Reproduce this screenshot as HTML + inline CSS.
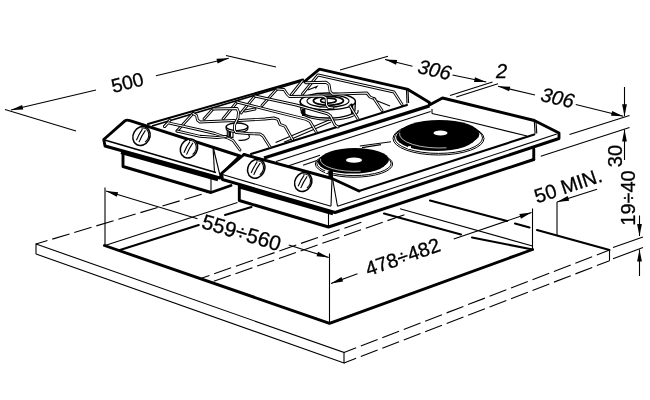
<!DOCTYPE html>
<html><head><meta charset="utf-8"><title>Hob installation dimensions</title>
<style>
html,body{margin:0;padding:0;background:#fff}
svg{display:block;filter:grayscale(1)}
.t{fill:none;stroke:#000;stroke-width:1.1}
.k{fill:none;stroke:#000;stroke-width:2.9;stroke-linejoin:round;stroke-linecap:round}
.d{fill:none;stroke:#000;stroke-width:1.1;stroke-dasharray:18 5}
.f{fill:#000;stroke:none}
.wo{fill:none;stroke:#000;stroke-width:2.9;stroke-linejoin:round;stroke-linecap:round}
.wi{fill:none;stroke:#fff;stroke-width:1.1;stroke-linejoin:round;stroke-linecap:round}
.kw{fill:#fff;stroke:#000;stroke-width:2.9;stroke-linejoin:round}
.m{fill:none;stroke:#000;stroke-width:2.1;stroke-linecap:round}
.k2{fill:none;stroke:#000;stroke-width:1.6}
.k3{fill:none;stroke:#000;stroke-width:3.4}
.w{fill:#fff;stroke:#000;stroke-width:1}
text{font-family:"Liberation Sans",sans-serif;fill:#000;stroke:#000;stroke-width:0.3}
</style></head><body>
<svg width="650" height="400" viewBox="0 0 650 400">
<rect width="650" height="400" fill="#fff"/>
<path class="t" d="M36 254 L36 244 L344 352.5 L344 363 L36 254"/>
<path class="d" d="M36 244 L207.5 192.5" stroke-dashoffset="6"/>
<path class="d" d="M344 352.5 L609.5 250" stroke-dashoffset="5"/>
<path class="d" d="M344 363 L609.5 260.75" stroke-dashoffset="5"/>
<path class="t" d="M609.5 250 L609.5 260.75"/>
<path class="m" d="M430 200.5 L507 221"/>
<path class="m" d="M515 223.5 L529.5 227.5"/>
<path class="m" d="M537 230 L609.5 250"/>
<path class="k" d="M104.5 245.5 L329.5 323.3 L532.5 249.5"/>
<path class="t" d="M105 187.5 L105 246"/>
<path class="t" d="M329.5 253.5 L329.5 323.3"/>
<path class="t" d="M532.5 208.5 L532.5 249.5"/>
<path class="t" d="M105 245.5 L237.5 202.5"/>
<path class="m" d="M120 250 L198.75 225"/>
<path class="m" d="M225 215 L251.5 207"/>
<path class="t" d="M400 208.75 L532.5 246"/>
<path class="m" d="M472 237.5 L532.5 249.5"/>
<path class="m" d="M384 213.5 L461 234.5"/>
<path class="d" d="M200 278.75 L362 222" stroke-dashoffset="8"/>
<path class="d" d="M213.75 281.25 L405 214.5"/>
<path class="t" d="M5 109.5 L76 131"/>
<path class="t" d="M96 90 L11 110"/>
<path class="f" d="M11.00 110.00 L22.13 104.92 L23.23 109.59 Z"/>
<path class="t" d="M156 75.75 L228.75 58.25"/>
<path class="f" d="M228.75 58.25 L217.64 63.39 L216.52 58.72 Z"/>
<path class="t" d="M226 55.5 L276 67"/>
<text x="129" y="89" font-size="19.5" text-anchor="middle" transform="rotate(-14 129 89)">500</text>
<path class="t" d="M340 70 L388 56.25"/>
<path class="t" d="M412.5 66.25 L385 59.5"/>
<path class="f" d="M385.00 59.50 L397.23 60.03 L396.08 64.69 Z"/>
<text x="433" y="76.5" font-size="20" font-style="italic" text-anchor="middle" transform="rotate(13 433 76.5)">306</text>
<path class="t" d="M452.5 75 L486.25 82"/>
<path class="f" d="M486.25 82.00 L474.01 81.91 L474.99 77.21 Z"/>
<path class="t" d="M450 95.5 L492.5 82"/>
<path class="t" d="M456.25 97 L498 83.75"/>
<text x="501.5" y="77.5" font-size="20" font-style="italic" text-anchor="middle" transform="rotate(0 501.5 77.5)">2</text>
<path class="t" d="M535 95 L498 86.25"/>
<path class="f" d="M498.00 86.25 L510.23 86.68 L509.13 91.35 Z"/>
<text x="556" y="104.5" font-size="20" font-style="italic" text-anchor="middle" transform="rotate(13 556 104.5)">306</text>
<path class="t" d="M575.75 104.5 L623.25 116.25"/>
<path class="f" d="M623.25 116.25 L611.02 115.70 L612.18 111.04 Z"/>
<path class="t" d="M569.5 134.5 L629.5 115.5"/>
<path class="t" d="M540.75 156.25 L629.5 127.5"/>
<path class="t" d="M624.5 87 L624.5 116.25"/>
<path class="f" d="M624.50 116.25 L622.10 104.25 L626.90 104.25 Z"/>
<path class="t" d="M624.5 160 L624.5 129.5"/>
<path class="f" d="M624.50 129.50 L626.90 141.50 L622.10 141.50 Z"/>
<text x="621.5" y="156" font-size="20" text-anchor="middle" transform="rotate(-90 621.5 156)">30</text>
<text x="635.3" y="198" font-size="20" text-anchor="middle" transform="rotate(-90 635.3 198)">19÷40</text>
<path class="t" d="M639.5 215.5 L639.5 236"/>
<path class="f" d="M639.50 236.00 L637.10 224.00 L641.90 224.00 Z"/>
<path class="t" d="M639.5 276 L639.5 249.5"/>
<path class="f" d="M639.50 249.50 L641.90 261.50 L637.10 261.50 Z"/>
<path class="t" d="M613 247.5 L643 237"/>
<path class="t" d="M613 258.75 L643 247.5"/>
<text x="570.3" y="192.3" font-size="20" text-anchor="middle" transform="rotate(-18.5 570.3 192.3)">50 MIN.</text>
<path class="t" d="M597 189.2 L557 202"/>
<path class="f" d="M557.00 202.00 L567.70 196.06 L569.16 200.63 Z"/>
<path class="t" d="M557 202 L557 236"/>
<path class="t" d="M453.75 239 L531.5 212.5"/>
<path class="f" d="M531.50 212.50 L520.92 218.64 L519.37 214.10 Z"/>
<text x="405" y="263.4" font-size="20" text-anchor="middle" transform="rotate(-19.3 405 263.4)">478÷482</text>
<path class="t" d="M357.5 273.75 L331 283.5"/>
<path class="f" d="M331.00 283.50 L341.43 277.10 L343.09 281.61 Z"/>
<path class="t" d="M197.5 218.75 L106 191"/>
<path class="f" d="M106.00 191.00 L118.18 192.19 L116.79 196.78 Z"/>
<text x="239.5" y="239.5" font-size="21" text-anchor="middle" transform="rotate(16.8 239.5 239.5)">559÷560</text>
<path class="t" d="M288.75 245 L328.75 257.5"/>
<path class="f" d="M328.75 257.50 L316.58 256.21 L318.01 251.63 Z"/>
<path d="M148 124 L303 79.5 L319.5 69.2 L408 89.4 L429.4 102.5 L429.4 105 L265 158.5 L240 156 Z" fill="#fff" stroke="none"/>
<path class="m" d="M148 124 L303 79.5"/>
<path class="k" d="M304.5 81.5 L319.5 69.2 L408 89.4 L429.4 102.5 L429.4 105"/>
<path class="m" d="M251 154 L407 105"/>
<path class="t" d="M406.5 90 L407 103.5"/>
<path class="t" d="M408 89.4 L408.6 103"/>
<path class="wo" d="M302.5 94 L318 75 L394 92 L402 104.5"/><path class="wi" d="M302.5 94 L318 75 L394 92 L402 104.5"/>
<path class="k2" d="M152 126 L303 80.7"/>
<path class="t" d="M275.6 142.5 L329 120"/>
<path class="t" d="M284 142.2 L331 122"/>
<path class="t" d="M375 100 L390 106"/>
<path class="wo" d="M170 120 L164.5 126.5"/><path class="wi" d="M170 120 L164.5 126.5"/>
<path class="wo" d="M193 113.5 L177 131"/><path class="wi" d="M193 113.5 L177 131"/>
<path class="wo" d="M213 109 L204 119"/><path class="wi" d="M213 109 L204 119"/>
<path class="wo" d="M237 102 L223 119"/><path class="wi" d="M237 102 L223 119"/>
<path class="wo" d="M255 96 L241 113"/><path class="wi" d="M255 96 L241 113"/>
<path class="wo" d="M277 89 L262 105.5"/><path class="wi" d="M277 89 L262 105.5"/>
<path class="wo" d="M302.3 81 L291.5 94.5"/><path class="wi" d="M302.3 81 L291.5 94.5"/>
<path class="wo" d="M164.5 126.5 L168 122.8 L200 130 L215 133.5 L229 138.5 L233 140.5 L240 150"/><path class="wi" d="M164.5 126.5 L168 122.8 L200 130 L215 133.5 L229 138.5 L233 140.5 L240 150"/>
<path class="wo" d="M177 131 L200 136.3 L217 137.5 L226 136.5"/><path class="wi" d="M177 131 L200 136.3 L217 137.5 L226 136.5"/>
<path class="wo" d="M245 111 L255 109"/><path class="wi" d="M245 111 L255 109"/>
<path class="wo" d="M237 102 L306.25 119.4 L310 121.5 L316.25 132"/><path class="wi" d="M237 102 L306.25 119.4 L310 121.5 L316.25 132"/>
<path class="t" d="M248 134 Q250.5 136.5 248.5 138.5 Q245 141 238.5 140.2"/>
<path class="w" d="M227.3 128 L227.3 136.5 L233 137.5 L233 129 Z" style="stroke-width:1.1"/>
<rect x="228.4" y="130.5" width="2.6" height="6.3" class="f"/>
<path class="w" d="M226.2 126.8 L226.2 128.8 A10.8 3.8 0 0 0 247.8 128.8 L247.8 126.8 Z" style="stroke-width:1.2"/>
<ellipse class="w" cx="237" cy="126.8" rx="10.8" ry="3.8" style="stroke-width:1.3"/>
<path class="wo" d="M193 113.5 L196.5 115.5 L197.5 120 L200 122 L234 120.5 L237 121.5"/><path class="wi" d="M193 113.5 L196.5 115.5 L197.5 120 L200 122 L234 120.5 L237 121.5"/>
<path class="wo" d="M213 109 L237 108.5 L238.5 112 L238 118 L236 122 L234.6 125 L234.5 130 L236 132.5 L248 133.5 L260 134 L263 136 L270 147"/><path class="wi" d="M213 109 L237 108.5 L238.5 112 L238 118 L236 122 L234.6 125 L234.5 130 L236 132.5 L248 133.5 L260 134 L263 136 L270 147"/>
<path class="wo" d="M239 120.5 L265 119 L273.75 118 L278 119.4 L280 124.4 L285 126.25 L292.5 139.4"/><path class="wi" d="M239 120.5 L265 119 L273.75 118 L278 119.4 L280 124.4 L285 126.25 L292.5 139.4"/>
<path class="t" d="M301 112 A28 9 0 0 0 358 110"/>
<path class="w" d="M300.2 101.4 L301 110.5 A27 8 0 0 0 355 109.5 L355.4 101.4 Z" style="stroke-width:1.3"/>
<ellipse class="w" cx="327.8" cy="101.4" rx="27.6" ry="8.4" style="stroke-width:1.4"/>
<ellipse class="t" cx="328" cy="101" rx="21" ry="6.2"/>
<ellipse class="t" cx="328.4" cy="100.8" rx="15" ry="4.5" style="stroke-width:1.8"/>
<ellipse class="t" cx="328.4" cy="100.6" rx="7.8" ry="2.5" style="stroke-width:1.6"/>
<rect x="302" y="108.6" width="3.4" height="7.4" class="f"/>
<path class="k" d="M351.5 105 L352.5 113"/>
<path class="wo" d="M255 96 L296.25 105 L327.5 113.75 L330.5 116 L335 125 L338 127"/><path class="wi" d="M255 96 L296.25 105 L327.5 113.75 L330.5 116 L335 125 L338 127"/>
<path class="wo" d="M277 89 L284 89.5 L287 94 L289.5 96.5 L322.4 96 L326 97.8 L326.6 105 L328.4 107.4 L333 108"/><path class="wi" d="M277 89 L284 89.5 L287 94 L289.5 96.5 L322.4 96 L326 97.8 L326.6 105 L328.4 107.4 L333 108"/>
<path class="wo" d="M305.6 82.8 L326 82.2 L329 84.6 L330.2 91.8 L332.6 94.2 L366.8 93 L370 97 L375 99"/><path class="wi" d="M305.6 82.8 L326 82.2 L329 84.6 L330.2 91.8 L332.6 94.2 L366.8 93 L370 97 L375 99"/>
<path class="wo" d="M350 106 L358 119"/><path class="wi" d="M350 106 L358 119"/>
<path class="wo" d="M374 98.5 L382 110.5"/><path class="wi" d="M374 98.5 L382 110.5"/>
<path class="t" d="M308 90 L317 86.4 L315.5 88.5"/>
<path class="k" d="M123 153.5 L123 166.5 L211 192.5 L231 185.5"/>
<path class="t" d="M211 178.5 L211 192.5"/>
<path class="kw" d="M130 120.6 Q126.6 119.4 124.6 121.2 L103.75 139.5 L105 146 L220 178 L222 173.5 L240 156 Z"/>
<path class="k2" d="M103.75 139.8 L216 172.5"/>
<path class="k3" d="M121 152.4 L218 179.6"/>
<path class="t" d="M213 146.5 L214.5 172.5"/>
<path class="t" d="M213 146.5 L220 175.5"/>
<g transform="translate(141.5 136) rotate(-60)"><ellipse class="w" cx="0" cy="0" rx="9.8" ry="8.3" style="stroke-width:1.5"/><path class="t" d="M-6.2 -2.3 Q0 -3.2 6.4 -2.6"/><path class="t" d="M-6.6 0.9 Q0 0 6.8 0.6"/><path class="t" d="M6.80 -3.90 A8.3 6.8 0 0 1 -3.51 6.16"/></g>
<g transform="translate(189 148.5) rotate(-60)"><ellipse class="w" cx="0" cy="0" rx="9.8" ry="8.3" style="stroke-width:1.5"/><path class="t" d="M-6.2 -2.3 Q0 -3.2 6.4 -2.6"/><path class="t" d="M-6.6 0.9 Q0 0 6.8 0.6"/><path class="t" d="M6.80 -3.90 A8.3 6.8 0 0 1 -3.51 6.16"/></g>
<path class="k" d="M239.3 186.3 L239.3 200.5 L328.5 227 L533.75 159.5"/>
<path class="t" d="M328.5 212.5 L328.5 227"/>
<path class="k" d="M533.75 149 L533.75 159.5"/>
<path d="M244 154.5 L265 157.5 L429.4 105.5 L442.5 98 L534.3 120.5 L559 133 L559 138.5 L335 212.5 L222.5 179.5 L221.5 173.5 Z" fill="#fff" stroke="none"/>
<path class="k" d="M429.4 105 L442.5 98 L534.3 120.5 L559 133 L559 138.5 L335 212.5 L222.5 179.5 L221.5 173.5 L244 154.5"/>
<path class="k3" d="M264 158 L429.4 105.8"/>
<path class="t" d="M276 161.5 L430.6 111.6"/>
<path class="k3" d="M238.5 186.6 L333 213.5"/>
<path class="t" d="M221.5 174.3 L331 206.3"/>
<path class="t" d="M332 178.5 L331 206"/>
<path class="t" d="M332.5 178.5 L337.5 206.25"/>
<path class="k" d="M244 154.5 L332 178.5"/>
<path class="t" d="M337.5 206.25 L556.8 134.1"/>
<path class="m" d="M359 191 L534.3 134.5"/>
<path class="k" d="M332 178.5 L359 191"/>
<path class="t" d="M534.3 120.5 L535.1 133.7"/>
<path class="t" d="M536 121.5 L536.8 133.5"/>
<path class="t" d="M432 113.5 L470 122 L527 136"/>
<path class="t" d="M432 109 L432 113.5"/>
<path class="t" d="M288 166 L320 155.2"/>
<path class="t" d="M303 165.2 L319 159.7"/>
<path class="t" d="M359.8 146 L391 141.7"/>
<path class="t" d="M362 147.6 L381 144.6"/>
<ellipse class="w" cx="354" cy="164" rx="38.6" ry="13.2"/>
<ellipse class="w" cx="354" cy="163.4" rx="37.1" ry="12.2"/>
<ellipse class="f" cx="352.2" cy="161.9" rx="34.3" ry="11.7"/>
<ellipse class="f" cx="354.7" cy="159.7" rx="34.3" ry="11.7"/>
<path d="M360.66 171.22 A34.3 11.7 0 0 1 320.53 158.68" fill="none" stroke="#fff" stroke-width="0.7"/>
<ellipse cx="354" cy="160.2" rx="8" ry="2.6" fill="#fff"/>
<rect x="328.5" y="171" width="4.5" height="7" class="f"/><rect x="325" y="170.3" width="2.6" height="2.6" fill="#fff"/>
<ellipse class="w" cx="438.5" cy="138.5" rx="45.5" ry="16.5"/>
<ellipse class="w" cx="438.5" cy="137.9" rx="44" ry="15.5"/>
<ellipse class="f" cx="436" cy="137" rx="40" ry="14"/>
<ellipse class="f" cx="439.5" cy="134" rx="40" ry="14"/>
<path d="M446.45 147.79 A40 14 0 0 1 399.65 132.78" fill="none" stroke="#fff" stroke-width="0.7"/>
<ellipse cx="440.5" cy="133" rx="7" ry="2.4" fill="#fff"/>
<rect x="408" y="146.2" width="3" height="2.8" fill="#fff"/>
<g transform="translate(256.25 168.75) rotate(-60)"><ellipse class="w" cx="0" cy="0" rx="9.8" ry="8.3" style="stroke-width:1.5"/><path class="t" d="M-6.2 -2.3 Q0 -3.2 6.4 -2.6"/><path class="t" d="M-6.6 0.9 Q0 0 6.8 0.6"/><path class="t" d="M6.80 -3.90 A8.3 6.8 0 0 1 -3.51 6.16"/></g>
<g transform="translate(303.25 182) rotate(-60)"><ellipse class="w" cx="0" cy="0" rx="9.8" ry="8.3" style="stroke-width:1.5"/><path class="t" d="M-6.2 -2.3 Q0 -3.2 6.4 -2.6"/><path class="t" d="M-6.6 0.9 Q0 0 6.8 0.6"/><path class="t" d="M6.80 -3.90 A8.3 6.8 0 0 1 -3.51 6.16"/></g>
</svg>
</body></html>
